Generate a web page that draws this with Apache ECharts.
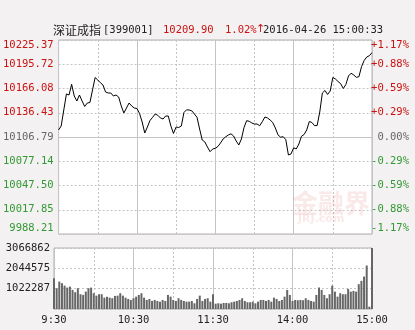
<!DOCTYPE html>
<html>
<head>
<meta charset="utf-8">
<script src="https://cdn.jsdelivr.net/npm/echarts@6/dist/echarts.min.js"></script>
<style>
html,body{margin:0;padding:0;background:#f3f1f1;}
#c{width:415px;height:330px;}
</style>
</head>
<body>
<div id="c"></div>
<script>
// ---------- data ----------
const prevClose = 10106.79;
const priceMin = 9988.21;
const priceMax = 10225.37;
const volMax = 3066862;

const priceTicks = ['9988.21','10017.85','10047.50','10077.14','10106.79','10136.43','10166.08','10195.72','10225.37'];
const pctTicks = ['-1.17%','-0.88%','-0.59%','-0.29%','0.00%','+0.29%','+0.59%','+0.88%','+1.17%'];
const volTicks = ['', '1022287', '2044575', '3066862'];
const xTicks = ['9:30','10:30','11:30','14:00','15:00'];

// trading times, every 2 minutes (9:30-11:30, 13:02-15:00)
const times = [];
function fmt(m){ return Math.floor(m/60) + ':' + String(m%60).padStart(2,'0'); }
for (let m = 570; m <= 690; m += 2) times.push(fmt(m));
for (let m = 782; m <= 900; m += 2) times.push(fmt(m));

const prices = [
 10115.35,10120.24,10139.80,10159.36,10158.13,10171.21,10156.91,10150.80,10158.13,10150.80,
 10144.08,10148.35,10148.97,10164.25,10179.53,10176.47,10173.17,10170.36,10161.80,10160.58,
 10160.58,10156.91,10158.13,10155.69,10144.69,10136.13,10142.24,10148.35,10144.69,10142.24,
 10141.63,10135.52,10125.13,10111.68,10119.02,10126.96,10130.87,10134.91,10133.32,10130.02,
 10128.79,10132.46,10132.46,10120.24,10111.07,10119.02,10118.40,10120.24,10136.74,10140.04,
 10139.80,10138.82,10134.91,10130.87,10116.57,10103.12,10100.68,10094.57,10088.82,10092.12,
 10092.98,10095.18,10099.46,10104.35,10107.04,10109.24,10110.70,10108.01,10101.90,10097.01,
 10104.35,10118.40,10126.72,10125.98,10123.91,10122.68,10122.68,10120.60,10125.49,10131.24,
 10130.02,10127.57,10124.52,10117.79,10109.48,10106.55,10107.16,10103.49,10084.79,10086.01,
 10093.59,10092.12,10098.23,10107.65,10109.85,10115.35,10125.74,10124.52,10120.60,10120.85,
 10137.35,10160.58,10163.64,10158.75,10163.02,10179.53,10177.69,10174.64,10171.95,10166.08,
 10170.97,10181.36,10184.78,10182.58,10179.77,10180.51,10192.97,10200.31,10204.59,10206.18,
 10209.90
];

const volumes = [
 1551000,1046000,1379000,1298000,1177000,1076000,1127000,960000,844000,1046000,
 743000,707000,874000,1046000,1076000,793000,672000,743000,743000,571000,
 621000,571000,541000,657000,672000,793000,672000,571000,505000,455000,
 541000,621000,707000,793000,571000,455000,505000,404000,455000,404000,
 369000,455000,404000,707000,621000,455000,404000,541000,455000,404000,
 369000,369000,404000,288000,505000,672000,404000,505000,541000,369000,
 743000,268000,288000,268000,303000,303000,288000,339000,369000,404000,
 455000,541000,404000,339000,339000,369000,288000,369000,455000,455000,
 404000,455000,369000,571000,505000,404000,455000,621000,960000,707000,
 404000,455000,440000,455000,440000,541000,455000,404000,369000,707000,
 1076000,960000,707000,541000,743000,1177000,874000,621000,793000,743000,
 743000,1011000,874000,909000,874000,1248000,1415000,1632000,2188000,116000,
 3066862
];

const title = { name: '深证成指', code: '[399001]', last: '10209.90', pct: '1.02%', arrow: '↑', time: '2016-04-26 15:00:33' };

// ---------- chart ----------
const MONO = '"DejaVu Sans Mono", monospace';
const RED = '#cc1111', GREEN = '#339933', GRAY = '#666666';
const dashed = { show: true, lineStyle: { color: '#c4c4c4', type: [2, 2], width: 1 } };
const solid = { show: true, lineStyle: { color: '#c4c4c4', type: 'solid', width: 1 } };
const hidden = { axisLine: { show: false }, axisTick: { show: false }, axisLabel: { show: false } };

function priceColor(v, i) { const k = Math.round(v); return k > 4 ? RED : (k < 4 ? GREEN : GRAY); }

// helper grid-line axes: 8 half-hour steps (dashed), 4 hour steps (solid)
function stepAxes(gridIndex) {
  return [
    Object.assign({ gridIndex, z: 1, type: 'value', min: 0, max: 8, interval: 1, position: 'top', splitLine: dashed }, hidden),
    Object.assign({ gridIndex, z: 1, type: 'value', min: 0, max: 4, interval: 1, position: 'top', splitLine: solid }, hidden)
  ];
}

const chart = echarts.init(document.getElementById('c'), null, { renderer: 'canvas' });
chart.setOption({
  animation: false,
  backgroundColor: '#f3f1f1',
  grid: [
    { left: 54, right: 43, top: 40, height: 194, show: true, z: -1, backgroundColor: '#ffffff', borderColor: '#b0b0b0', borderWidth: 1 },
    { left: 54, right: 43, top: 248, height: 61, show: true, z: -1, backgroundColor: '#ffffff', borderColor: '#b0b0b0', borderWidth: 1 }
  ],
  xAxis: [
    Object.assign({ gridIndex: 0, z: 1, type: 'category', data: times, boundaryGap: false, splitLine: { show: false } }, hidden),
    ...stepAxes(0),
    { gridIndex: 1, z: 1, type: 'category', data: times, boundaryGap: false, axisLine: { show: false }, axisTick: { show: false },
      axisLabel: { show: true, interval: (i) => i % 30 === 0, formatter: (v, i) => xTicks[i / 30], color: '#222', fontFamily: MONO, fontSize: 10.5, margin: 6 },
      splitLine: { show: false } },
    ...stepAxes(1)
  ],
  yAxis: [
    { gridIndex: 0, z: 1, type: 'value', min: priceMin, max: priceMax, show: false, splitLine: { show: false } },
    { gridIndex: 0, z: 1, type: 'value', min: 0, max: 8, interval: 1, position: 'left', axisLine: { show: false }, axisTick: { show: false },
      axisLabel: { formatter: (v) => priceTicks[v], color: priceColor, fontFamily: MONO, fontSize: 10.5, margin: 5,
        verticalAlignMaxLabel: 'top', verticalAlignMinLabel: 'bottom' },
      splitLine: dashed },
    { gridIndex: 0, z: 1, type: 'value', min: 0, max: 8, interval: 1, position: 'right', axisLine: { show: false }, axisTick: { show: false },
      axisLabel: { formatter: (v) => pctTicks[v], color: priceColor, fontFamily: MONO, fontSize: 10.5, margin: 37, align: 'right',
        verticalAlignMaxLabel: 'top', verticalAlignMinLabel: 'bottom' },
      splitLine: { show: false } },
    { gridIndex: 1, z: 1, type: 'value', min: 0, max: volMax, show: false, splitLine: { show: false } },
    { gridIndex: 1, z: 1, type: 'value', min: 0, max: 3, interval: 1, position: 'left', axisLine: { show: false }, axisTick: { show: false },
      axisLabel: { formatter: (v) => volTicks[v], color: '#222', fontFamily: MONO, fontSize: 10.5, margin: 4 },
      splitLine: dashed }
  ],
  graphic: [
    { type: 'text', left: 53, top: 24, style: { text: title.name, font: '12px "Noto Sans CJK SC"', fill: '#222' } },
    { type: 'text', left: 103, top: 25, style: { text: title.code, font: '10.5px ' + MONO, fill: '#222' } },
    { type: 'text', left: 163, top: 25, style: { text: title.last, font: '10.5px ' + MONO, fill: RED } },
    { type: 'text', left: 225, top: 25, style: { text: title.pct, font: '10.5px ' + MONO, fill: RED } },
    { type: 'text', left: 256, top: 24, style: { text: title.arrow, font: '11px "DejaVu Sans"', fill: RED } },
    { type: 'text', left: 263, top: 25, style: { text: title.time, font: '10.5px ' + MONO, fill: '#222' } },
    { type: 'text', left: 292, top: 190, z: 5, style: { text: '金融界', font: 'bold 26px "Noto Sans CJK SC"', fill: 'rgba(215,120,120,0.16)' } },
    { type: 'text', left: 298, top: 214, z: 5, style: { text: 'JRJ.com', font: 'bold 11px "DejaVu Sans"', fill: 'rgba(215,120,120,0.16)' } }
  ],
  series: [
    { type: 'line', xAxisIndex: 0, yAxisIndex: 0, data: prices, symbol: 'none', smooth: false,
      lineStyle: { color: '#000', width: 1 }, z: 10,
      markLine: { silent: true, symbol: 'none', label: { show: false }, lineStyle: { color: '#c4c4c4', type: 'solid', width: 1 },
        data: [{ yAxis: prevClose }] } },
    { type: 'bar', xAxisIndex: 3, yAxisIndex: 3, data: volumes, barWidth: 2, itemStyle: { color: '#666666' }, z: 10 }
  ]
});
</script>
</body>
</html>
